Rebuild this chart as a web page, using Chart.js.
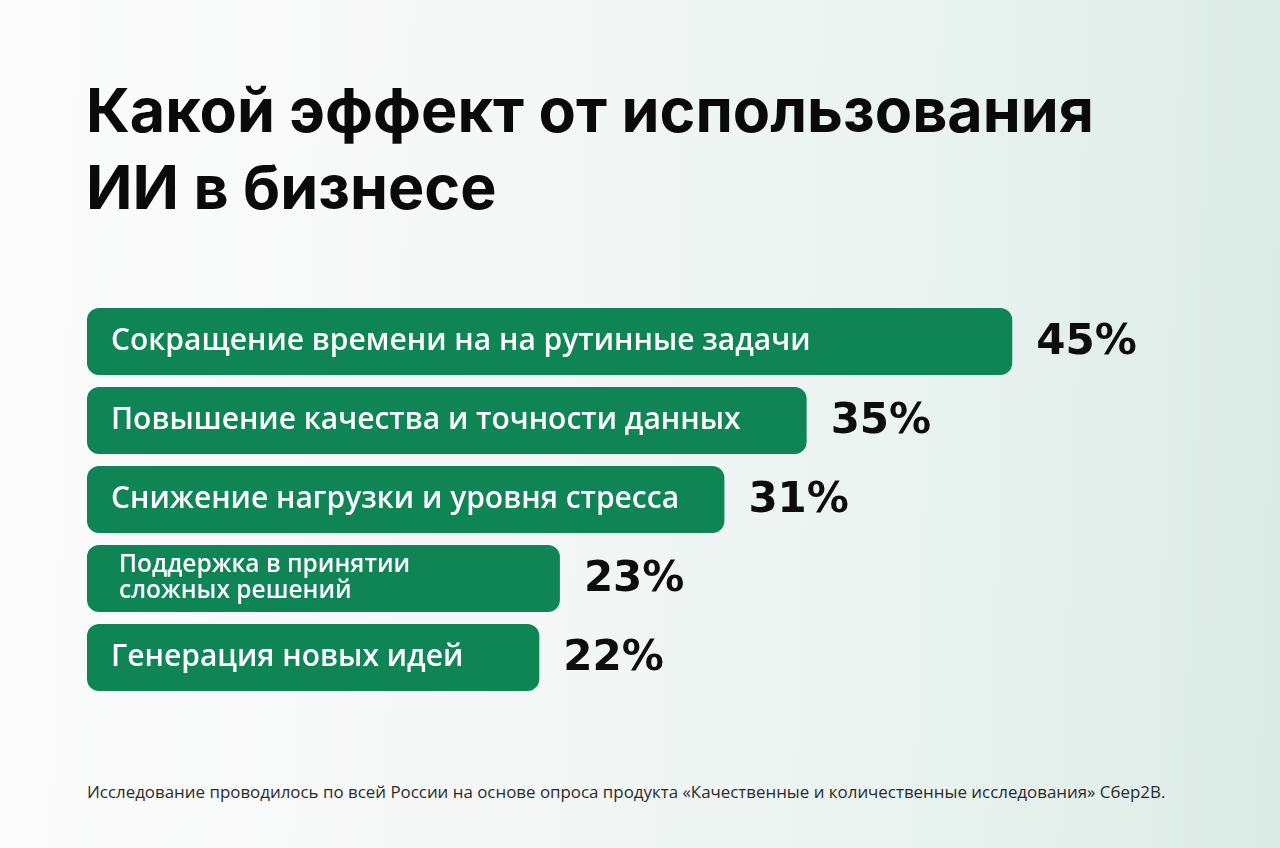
<!DOCTYPE html>
<html><head><meta charset="utf-8">
<script src="https://cdn.jsdelivr.net/npm/chart.js@4.4.1/dist/chart.umd.min.js"></script>
<style>
html,body{margin:0;padding:0;width:1280px;height:848px;overflow:hidden;}
body{position:relative;background:linear-gradient(92deg,#fbfbfb 0%,#f6f8f7 35%,#eaf3f0 70%,#dcebe6 100%);}
h1{position:absolute;left:86px;top:72px;margin:0;font:700 61px/77px Inter,sans-serif;color:#0a0a0a;white-space:nowrap}
#wrap{position:absolute;left:87px;top:302px;width:1100px;height:395px}
.foot{position:absolute;left:87px;top:780px;margin:0;font:400 16.9px "Open Sans",sans-serif;color:#2b2b2b;white-space:nowrap}
</style>
</head><body>
<h1>Какой эффект от использования<br>ИИ в бизнесе</h1>
<div id="wrap"><canvas id="c"></canvas></div>
<p class="foot">Исследование проводилось по всей России на основе опроса продукта «Качественные и количественные исследования» Сбер2В.</p>
<script>
const categories = [
  "Сокращение времени на на рутинные задачи",
  "Повышение качества и точности данных",
  "Снижение нагрузки и уровня стресса",
  ["Поддержка в принятии", "сложных решений"],
  "Генерация новых идей"
];
const values = [45, 35, 31, 23, 22];
const valueLabels = ["45%", "35%", "31%", "23%", "22%"];

const barLabelPlugin = {
  id: 'barLabels',
  afterDatasetsDraw(chart) {
    const ctx = chart.ctx;
    const meta = chart.getDatasetMeta(0);
    meta.data.forEach((bar, i) => {
      const lab = chart.data.labels[i];
      ctx.save();
      ctx.fillStyle = '#ffffff';
      ctx.textBaseline = 'middle';
      ctx.textAlign = 'left';
      if (Array.isArray(lab)) {
        ctx.font = '600 24.5px "Open Sans", sans-serif';
        const lh = 26;
        lab.forEach((t, k) => {
          ctx.fillText(t, bar.base + 32, bar.y + (k - (lab.length - 1) / 2) * lh);
        });
      } else {
        ctx.font = '600 30px "Open Sans", sans-serif';
        ctx.fillText(lab, bar.base + 24, bar.y);
      }
      ctx.fillStyle = '#0d0d0d';
      ctx.font = 'bold 42px "DejaVu Sans", sans-serif';
      ctx.fillText(valueLabels[i], bar.x + 24, bar.y + 2);
      ctx.restore();
    });
  }
};

new Chart(document.getElementById('c'), {
  type: 'bar',
  data: {
    labels: categories,
    datasets: [{
      data: values,
      backgroundColor: '#0f8556',
      borderRadius: 12,
      borderSkipped: false,
      barPercentage: 0.85,
      categoryPercentage: 1.0
    }]
  },
  options: {
    indexAxis: 'y',
    responsive: true,
    maintainAspectRatio: false,
    animation: false,
    layout: { padding: 0 },
    plugins: { legend: { display: false }, tooltip: { enabled: false }, title: { display: false } },
    scales: {
      x: { display: false, min: 0, max: 53.5 },
      y: { display: false }
    }
  },
  plugins: [barLabelPlugin]
});
</script>
</body></html>
